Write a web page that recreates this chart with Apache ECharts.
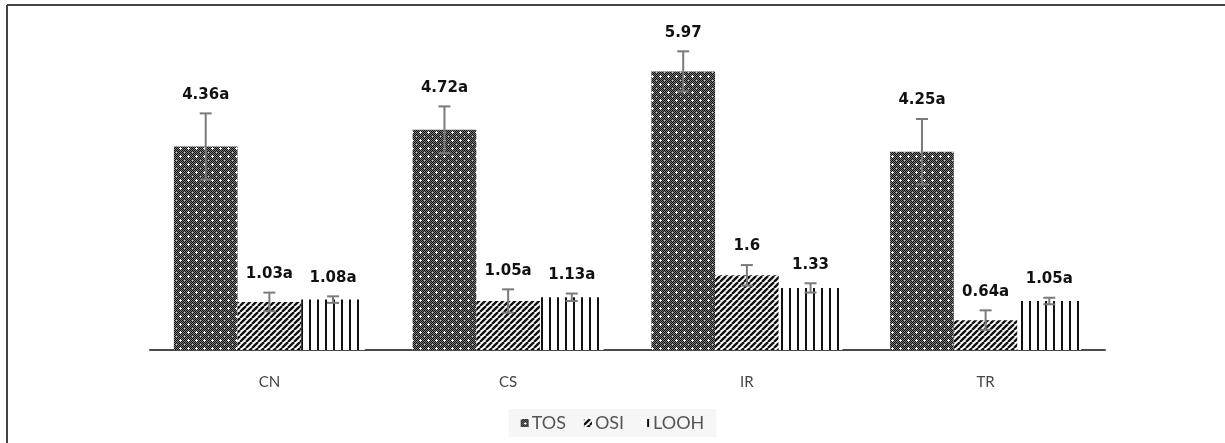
<!DOCTYPE html>
<html><head><meta charset="utf-8">
<script src="https://cdn.jsdelivr.net/npm/echarts@6/dist/echarts.min.js"></script>
<style>html,body{margin:0;padding:0;background:#fff}#c{width:1225px;height:443px}</style>
</head><body><div id="c"></div>
<script>
var categories = ['CN', 'CS', 'IR', 'TR'];
var seriesNames = ['TOS', 'OSI', 'LOOH'];
var tosValues = [4.36, 4.72, 5.97, 4.25];
var osiValues = [1.03, 1.05, 1.6, 0.64];
var loohValues = [1.08, 1.13, 1.33, 1.05];
var tosErr = [0.71, 0.5, 0.43, 0.7];
var osiErr = [0.2, 0.25, 0.22, 0.21];
var loohErr = [0.07, 0.08, 0.1, 0.07];
var tosLabels = ['4.36a', '4.72a', '5.97', '4.25a'];
var osiLabels = ['1.03a', '1.05a', '1.6', '0.64a'];
var loohLabels = ['1.08a', '1.13a', '1.33', '1.05a'];

function makeCanvas(w, h, draw) {
  var c = document.createElement('canvas');
  c.width = w; c.height = h;
  draw(c.getContext('2d'));
  return c;
}
var tosPattern = makeCanvas(8, 8, function (g) {
  g.fillStyle = '#7a7a7a'; g.fillRect(0, 0, 8, 8);
  g.fillStyle = '#111111';
  for (var x = 0; x < 8; x++) for (var y = 0; y < 8; y++) {
    if ((x + y) % 2 === 0) g.fillRect(x, y, 1, 1);
  }
  g.fillStyle = '#ffffff';
  g.fillRect(3, 4, 3, 1); g.fillRect(4, 3, 1, 3);
  g.fillStyle = '#cfcfcf';
  g.fillRect(0, 0, 1, 1);
});
var osiPattern = makeCanvas(6, 6, function (g) {
  g.fillStyle = '#ffffff'; g.fillRect(0, 0, 6, 6);
  g.strokeStyle = '#111'; g.lineWidth = 2.4;
  for (var k = -6; k <= 12; k += 6) {
    g.beginPath(); g.moveTo(k, 6); g.lineTo(k + 6, 0); g.stroke();
  }
});
var loohPattern = makeCanvas(8, 8, function (g) {
  g.fillStyle = '#ffffff'; g.fillRect(0, 0, 8, 8);
  g.fillStyle = '#111'; g.fillRect(5, 0, 2, 8);
});

var patterns = [tosPattern, osiPattern, loohPattern];
var values = [tosValues, osiValues, loohValues];
var errs = [tosErr, osiErr, loohErr];
var labels = [tosLabels, osiLabels, loohLabels];

var series = [];
seriesNames.forEach(function (name, si) {
  series.push({
    name: name, type: 'bar', data: values[si],
    barGap: 0, barCategoryGap: '20%',
    itemStyle: { color: { image: patterns[si], repeat: 'repeat' } },
    emphasis: { disabled: true }
  });
});
seriesNames.forEach(function (name, si) {
  series.push({
    type: 'custom', silent: true, z: 10,
    encode: { x: 0, y: 1 },
    data: values[si].map(function (v, i) { return [i, v, errs[si][i]]; }),
    renderItem: function (params, api) {
      var idx = api.value(0);
      var v = api.value(1), e = api.value(2);
      var bandW = api.size([1, 0])[0];
      var bw = bandW * 0.8 / 3;
      var c = api.coord([idx, v]);
      var x = c[0] + (si - 1) * bw;
      var yTop = api.coord([idx, v + e])[1];
      var yBot = api.coord([idx, v - e])[1];
      var st = { stroke: '#7a7a7a', lineWidth: 2 };
      return {
        type: 'group', children: [
          { type: 'line', shape: { x1: x, y1: yTop, x2: x, y2: yBot }, style: st },
          { type: 'line', shape: { x1: x - 6, y1: yTop, x2: x + 6, y2: yTop }, style: st },
          { type: 'line', shape: { x1: x - 6, y1: yBot, x2: x + 6, y2: yBot }, style: st },
          { type: 'text', x: x, y: yTop - 11, style: {
            text: labels[si][params.dataIndex], fill: '#111', font: 'bold 15px "DejaVu Sans"',
            align: 'center', verticalAlign: 'bottom' } }
        ]
      };
    }
  });
});

var chart = echarts.init(document.getElementById('c'), null, { renderer: 'canvas' });
chart.setOption({
  animation: false,
  backgroundColor: '#ffffff',
  grid: { left: 150, right: 120, top: 70, bottom: 93 },
  xAxis: {
    type: 'category', data: categories,
    axisLine: { lineStyle: { color: '#4a4a4a', width: 2 } },
    axisTick: { show: false },
    axisLabel: { margin: 25, color: '#444', fontSize: 15, fontFamily: 'Lato' }
  },
  yAxis: { type: 'value', min: 0, max: 6, show: false, splitLine: { show: false } },
  legend: {
    data: seriesNames, bottom: 6, left: 'center',
    itemWidth: 8, itemHeight: 8, itemGap: 18,
    backgroundColor: '#f6f6f6', padding: [5, 12],
    textStyle: { color: '#555', fontSize: 18, fontFamily: 'Lato', padding: [0, 0, 0, -2] },
    icon: 'rect'
  },
  graphic: [
    { type: 'line', shape: { x1: 7, y1: 5, x2: 1225, y2: 5 }, style: { stroke: '#444', lineWidth: 2 } },
    { type: 'line', shape: { x1: 7, y1: 5, x2: 7, y2: 443 }, style: { stroke: '#444', lineWidth: 2 } }
  ],
  series: series
});
</script></body></html>
